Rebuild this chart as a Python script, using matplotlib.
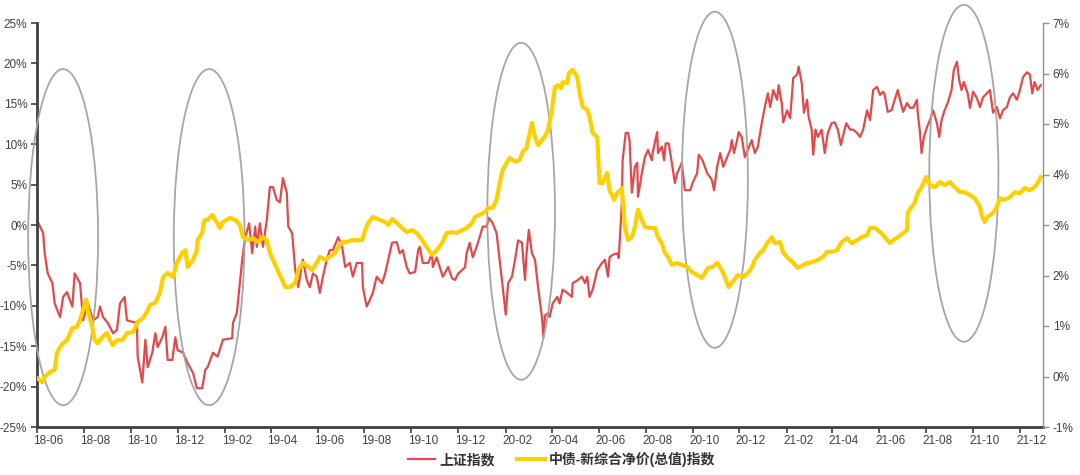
import matplotlib
matplotlib.use("Agg")
import matplotlib.pyplot as plt
import matplotlib.dates as mdates
from matplotlib.patches import Ellipse
from matplotlib.ticker import FuncFormatter, MultipleLocator
import pandas as pd

plt.rcParams["font.family"] = ["Liberation Sans", "Noto Sans CJK SC", "DejaVu Sans"]

START = pd.Timestamp("2018-06-01")

# 上证指数 cumulative return (%), days since START
sh_days = [0, 4, 8, 10, 14, 20, 23, 30, 34, 39, 46, 49, 56, 60, 66, 73, 79, 82, 86, 92,
           99, 104, 108, 114, 117, 125, 130, 131, 134, 137, 141, 144, 150, 154, 157, 163, 167, 170, 176, 180,
           183, 190, 196, 203, 208, 215, 219,
           222, 229, 235, 242, 254, 255, 260, 267, 271, 276, 280, 284, 286, 290, 294, 299, 303, 307, 312, 316,
           320, 325, 327, 332, 336, 340, 345, 346, 351, 355, 359, 364, 368, 372, 377, 381, 385, 392, 397, 401,
           407, 411, 416, 423, 424, 429, 433, 437,
           442, 449, 453, 457, 462, 468, 472, 476, 481, 485, 492, 496, 498, 502, 509, 514, 515, 520, 524, 528,
           535, 540, 544, 548, 553, 557, 559, 563, 567, 572, 576, 580, 585, 588, 593, 598, 602, 606, 610, 613,
           618, 622, 626, 631, 635, 637, 640, 644, 648, 652, 657, 659, 661,
           665, 667, 671, 677, 680, 684, 690, 696, 697, 704, 709, 713, 716, 719, 723, 729, 735, 739, 743, 745,
           749, 755, 757, 761, 762, 766, 769, 771, 774, 778, 781, 782, 787, 791, 795, 800, 801, 807, 808, 813,
           816, 818, 822, 826, 830, 833, 839, 843, 850, 853, 859, 861, 866, 872, 876, 878, 881,
           885, 889, 893, 898, 902, 904, 907, 911, 913, 917, 921, 925, 930, 934, 938, 943, 947, 951, 954, 958,
           963, 965, 969, 971, 976, 980, 984, 989, 991, 995, 998, 1002, 1004, 1008, 1010, 1013, 1016, 1021, 1025, 1029,
           1034, 1038, 1042, 1046, 1049, 1053, 1058, 1062, 1067, 1071, 1075, 1080, 1084, 1088, 1093, 1097, 1101,
           1103, 1107, 1112, 1116, 1120, 1123, 1127, 1132, 1136, 1140, 1145, 1146, 1149, 1151, 1154, 1158, 1162, 1166, 1171, 1174,
           1177, 1181, 1185, 1190, 1193, 1197, 1200, 1203, 1206, 1211, 1214, 1218, 1223, 1227, 1231, 1236, 1240, 1244, 1249, 1253,
           1257, 1262, 1266, 1270, 1275, 1279, 1283, 1288, 1292, 1295, 1298, 1302, 1306]
sh_vals = [0.6, -0.2, -1.0, -3.5, -6.0, -7.2, -9.7, -11.4, -8.9, -8.3, -10.1, -6.0, -7.2, -11.8, -9.7, -11.8, -11.4, -10.1, -11.4, -12.1,
           -13.4, -13.0, -9.7, -8.9, -11.8, -12.0, -12.1, -16.3, -17.9, -19.5, -14.2, -17.6, -15.8, -13.4, -15.1, -13.9, -12.6, -16.7, -16.7, -13.9,
           -15.5, -15.8, -17.1, -18.3, -20.2, -20.2, -17.9,
           -17.6, -15.8, -16.3, -14.2, -14.0, -12.1, -10.9, -4.3, -1.5, 0.2, -3.5, -0.2, -2.7, 0.2, -2.7, 0.6, 4.7, 4.7, 3.1, 2.8,
           5.8, 4.0, -0.2, -1.0, -5.6, -7.7, -4.7, -4.3, -6.8, -7.7, -6.0, -6.4, -8.4, -6.4, -4.3, -3.1, -3.1, -1.5, -2.7, -5.2,
           -4.7, -6.4, -4.7, -4.7, -7.7, -10.1, -9.3, -8.4,
           -6.4, -7.2, -6.0, -4.3, -2.2, -2.1, -3.5, -3.1, -5.2, -6.0, -5.8, -3.1, -2.7, -4.7, -4.7, -3.5, -5.2, -4.0, -5.2, -6.4,
           -5.2, -6.6, -6.8, -6.0, -5.6, -5.2, -3.5, -2.2, -4.0, -2.7, -1.5, -0.2, -0.2, 0.9, 0.2, -1.0, -4.3, -7.7, -11.1, -7.2,
           -6.4, -4.3, -1.9, -2.2, -6.8, -3.5, -0.6, -3.5, -4.3, -7.7, -11.4, -13.9, -11.2,
           -10.9, -11.4, -9.7, -8.9, -9.7, -8.0, -8.4, -8.9, -7.2, -6.8, -6.4, -7.2, -6.4, -8.9, -8.0, -5.6, -4.7, -4.3, -6.4, -4.0,
           -3.7, -3.5, -4.1, 2.7, 8.0, 11.4, 11.4, 10.5, 4.0, 7.2, 7.7, 3.5, 6.4, 8.4, 9.3, 8.0, 8.9, 11.5, 8.9, 9.7,
           8.0, 10.1, 10.1, 7.7, 5.2, 6.4, 7.7, 4.3, 4.3, 5.2, 6.4, 8.7, 8.0, 6.4, 5.9, 5.6, 4.3,
           7.2, 8.9, 7.2, 8.4, 9.3, 10.5, 8.9, 10.5, 11.5, 10.9, 8.4, 9.3, 10.5, 8.9, 9.7, 12.6, 14.6, 16.3, 14.6, 16.7,
           15.5, 17.3, 15.1, 12.7, 14.2, 13.2, 18.2, 18.6, 19.6, 17.6, 13.9, 15.5, 13.4, 11.8, 8.7, 11.8, 10.9, 11.8, 8.9, 11.4,
           12.6, 12.7, 11.8, 9.9, 11.1, 12.6, 11.8, 11.8, 11.4, 10.9, 11.8, 14.2, 13.0, 16.7, 17.1, 16.1, 16.5,
           16.1, 14.0, 14.2, 15.5, 16.7, 15.5, 14.0, 15.1, 14.5, 14.5, 15.5, 13.9, 11.4, 8.9, 10.9, 12.1, 13.0, 14.2, 12.6, 10.9,
           13.0, 14.2, 15.1, 16.7, 19.2, 20.2, 17.9, 16.7, 17.7, 16.3, 14.5, 16.5, 15.7, 14.6, 15.8, 16.3, 16.7, 13.9, 14.6, 13.2,
           14.2, 14.6, 15.8, 16.3, 15.5, 16.7, 18.3, 18.9, 18.6, 16.3, 17.7, 16.7, 17.3]

# 中债-新综合净价(总值)指数 cumulative return (%), right axis
bond_days = [0, 7, 10, 17, 23, 26, 30, 34, 39, 43, 46, 52, 56, 60, 64, 66, 72, 75, 79, 85,
             91, 95, 99, 104, 111, 117, 125, 131, 138, 143, 147, 154, 160, 164, 170, 177, 182, 189, 193, 196,
             203, 208, 209, 215, 217,
             219, 222, 228, 232, 238, 242, 251, 258, 264, 268, 275, 281, 288, 294, 299, 303, 307, 314, 319, 323,
             329, 336, 340, 346, 353, 358, 364, 368, 375, 381, 388, 392, 397, 403, 410, 416, 423, 427, 431, 437,
             446, 453, 457, 462, 468, 475, 481, 488, 494, 501, 507, 514, 520, 527, 533, 540, 546, 553, 559, 566,
             570, 576, 583, 587, 593, 598, 602, 606, 611, 615, 622, 628, 632, 637, 640, 644, 648, 652, 657, 661,
             665, 670, 674, 678, 682, 684, 690, 692, 697, 703, 706, 710, 716, 719, 723, 729, 732, 736, 742, 745,
             751, 755, 761, 765, 769, 774, 778, 782, 787, 791, 798, 804, 808, 813, 817, 821, 826, 833, 839, 846,
             852, 859, 865, 869, 873, 879,
             885, 891, 895, 900, 905, 912, 919, 925, 930, 934, 941, 945, 950, 956, 960, 967, 971, 977, 984, 990,
             997, 1003, 1010, 1016, 1023, 1028, 1034, 1041, 1047, 1054, 1060, 1067, 1073, 1080, 1084, 1090, 1097,
             1103, 1110, 1114, 1120, 1127, 1132, 1133, 1138, 1142, 1146, 1151, 1157, 1162, 1168, 1175, 1181, 1188, 1194, 1201, 1207,
             1214, 1220, 1227, 1229, 1233, 1237, 1244, 1249, 1253, 1259, 1266, 1272, 1279, 1285, 1292, 1298, 1302, 1306]
bond_vals = [-0.03, -0.11, -0.01, 0.09, 0.13, 0.47, 0.58, 0.66, 0.72, 0.86, 0.96, 0.98, 1.12, 1.32, 1.52, 1.32, 0.98, 0.72, 0.66, 0.78,
             0.86, 0.72, 0.62, 0.72, 0.72, 0.86, 0.88, 1.08, 1.16, 1.28, 1.42, 1.46, 1.66, 1.97, 2.05, 1.97, 2.25, 2.45, 2.50, 2.17,
             2.31, 2.50, 2.70, 2.84, 3.06,
             3.10, 3.10, 3.20, 3.10, 2.94, 3.06, 3.14, 3.10, 3.00, 2.76, 2.70, 2.74, 2.66, 2.76, 2.70, 2.45, 2.31, 2.07, 1.91, 1.77,
             1.77, 1.85, 2.11, 2.25, 2.17, 2.11, 2.25, 2.37, 2.31, 2.37, 2.45, 2.56, 2.66, 2.66, 2.70, 2.70, 2.70, 2.90, 3.04, 3.16,
             3.10, 3.06, 3.00, 3.12, 3.04, 2.94, 2.86, 2.90, 2.84, 2.70, 2.56, 2.41, 2.50, 2.64, 2.84, 2.86, 2.84, 2.90, 2.94, 3.04,
             3.16, 3.20, 3.26, 3.34, 3.34, 3.50, 3.83, 4.09, 4.23, 4.33, 4.25, 4.29, 4.45, 4.52, 4.74, 5.02, 4.74, 4.58, 4.68, 4.76,
             4.88, 5.28, 5.73, 5.77, 5.71, 5.83, 5.81, 6.01, 6.07, 5.93, 5.61, 5.34, 5.28, 5.14, 4.82, 4.74, 3.83, 3.83, 4.03, 3.69,
             3.50, 3.63, 3.73, 2.96, 2.70, 2.76, 2.96, 3.30, 3.10, 2.96, 2.94, 2.94, 2.76, 2.64, 2.45, 2.37, 2.21, 2.25, 2.21, 2.17,
             2.07, 2.01, 1.95, 2.05, 2.15, 2.17,
             2.25, 2.11, 1.97, 1.77, 1.87, 2.01, 1.97, 2.05, 2.15, 2.31, 2.45, 2.50, 2.64, 2.76, 2.64, 2.66, 2.45, 2.35, 2.25, 2.15,
             2.21, 2.25, 2.27, 2.31, 2.37, 2.47, 2.47, 2.50, 2.66, 2.74, 2.64, 2.70, 2.76, 2.80, 2.94, 2.94, 2.86,
             2.76, 2.64, 2.70, 2.76, 2.84, 2.90, 3.24, 3.36, 3.44, 3.63, 3.75, 3.95, 3.79, 3.75, 3.85, 3.79, 3.85, 3.75, 3.65, 3.65,
             3.59, 3.53, 3.36, 3.20, 3.06, 3.16, 3.24, 3.36, 3.53, 3.50, 3.55, 3.65, 3.63, 3.73, 3.69, 3.75, 3.83, 3.95]

# highlighted periods (grey ovals), centre date / centre y (left axis %) / width in days / height in %
oval_dates = ["2018-07-05", "2019-01-11", "2020-02-21", "2020-10-30", "2021-09-19"]
oval_y = [-1.5, -1.5, 1.7, 5.6, 6.4]
oval_w = [91, 92, 88, 86, 90]
oval_h = [41.6, 41.6, 41.7, 41.6, 41.7]

RED = "#e04a4a"
GOLD = "#ffd000"
TXT = "#404040"

sh_x = START + pd.to_timedelta(sh_days, unit="D")
bond_x = START + pd.to_timedelta(bond_days, unit="D")

fig = plt.figure(figsize=(10.8, 4.75), dpi=100)
ax = fig.add_axes([37 / 1080, 48 / 475, 1006 / 1080, 404 / 475])
ax2 = ax.twinx()

l1, = ax.plot(sh_x, sh_vals, color=RED, lw=1.6, label="上证指数")
l2, = ax2.plot(bond_x, bond_vals, color=GOLD, lw=3.0, label="中债-新综合净价(总值)指数")

for d, y, w, h in zip(oval_dates, oval_y, oval_w, oval_h):
    e = Ellipse((mdates.date2num(pd.Timestamp(d)), y), w, h, fill=False,
                edgecolor="#a6a6a6", lw=1.3, clip_on=False, transform=ax.transData)
    ax2.add_patch(e)

ax.set_xlim(START, START + pd.Timedelta(days=1309))
ax.set_ylim(-25, 25)
ax2.set_ylim(-1, 7)

ax.yaxis.set_major_locator(MultipleLocator(5))
ax2.yaxis.set_major_locator(MultipleLocator(1))
pct = FuncFormatter(lambda v, _: f"{v:.0f}%")
ax.yaxis.set_major_formatter(pct)
ax2.yaxis.set_major_formatter(pct)

ax.xaxis.set_major_locator(mdates.MonthLocator(bymonth=[2, 4, 6, 8, 10, 12]))
ax.xaxis.set_major_formatter(plt.NullFormatter())
ax.xaxis.set_minor_locator(mdates.MonthLocator(bymonth=[2, 4, 6, 8, 10, 12], bymonthday=16))
ax.xaxis.set_minor_formatter(mdates.DateFormatter("%y-%m"))

ax.tick_params(axis="x", which="major", length=4, width=1.2, color=TXT)
ax.tick_params(axis="x", which="minor", length=0, labelsize=8.5, labelcolor=TXT, pad=6)
ax.tick_params(axis="y", length=4, width=1.2, color=TXT, labelsize=8.5, labelcolor=TXT, pad=3)
ax2.tick_params(axis="y", length=4, width=1, color="#909090", labelsize=8.5, labelcolor=TXT, pad=3)

for s in ["top", "right"]:
    ax.spines[s].set_visible(False)
ax.spines["left"].set_color(TXT)
ax.spines["left"].set_linewidth(2)
ax.spines["bottom"].set_color(TXT)
ax.spines["bottom"].set_linewidth(2)
for s in ["top", "left", "bottom"]:
    ax2.spines[s].set_visible(False)
ax2.spines["right"].set_color("#909090")
ax2.spines["right"].set_linewidth(1)

fig.legend([l1, l2], [l1.get_label(), l2.get_label()], loc="center",
           bbox_to_anchor=(0.52, 0.032), ncol=2, frameon=False,
           prop={"size": 10, "weight": "bold"}, labelcolor="#333333",
           handlelength=2.0, columnspacing=1.6, handletextpad=0.3)

fig.savefig("out.png", dpi=100, facecolor="white")
